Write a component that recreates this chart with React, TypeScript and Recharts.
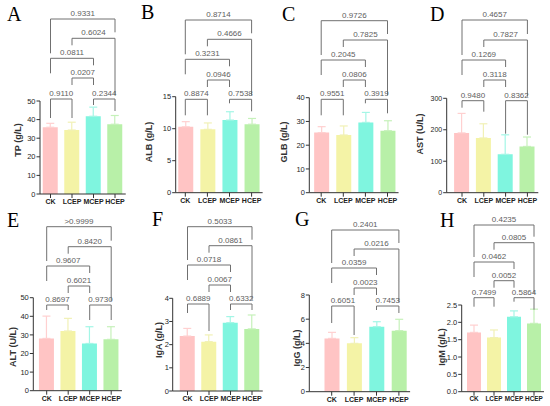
import React from 'react'
import { BarChart, Bar, XAxis, YAxis, ErrorBar, ReferenceLine } from 'recharts'

const GROUPS = ['CK', 'LCEP', 'MCEP', 'HCEP']
const BAR_COLORS = ['#ffc4c4', '#f4f3a6', '#7ff5df', '#b8f0a8']
const ERR_COLORS = ['#ffd0d0', '#f1f1b6', '#a4f6e6', '#c6f1ba']

const PANEL_LETTERS = ['A', 'B', 'C', 'D', 'E', 'F', 'G', 'H']
const Y_LABELS = ['TP (g/L)', 'ALB (g/L)', 'GLB (g/L)', 'AST (U/L)', 'ALT (U/L)', 'IgA (g/L)', 'IgG (g/L)', 'IgM (g/L)']

const Y_TICKS = [
  [0, 10, 20, 30, 40, 50],
  [0, 5, 10, 15],
  [0, 10, 20, 30, 40],
  [0, 100, 200, 300],
  [0, 10, 20, 30, 40, 50],
  [0, 1, 2, 3, 4],
  [0, 2, 4, 6, 8],
  [0, 0.5, 1, 1.5, 2, 2.5],
]
const TICK_DECIMALS = [0, 0, 0, 0, 0, 0, 0, 1]

// mean per group (CK, LCEP, MCEP, HCEP)
const MEANS = [
  [35.9, 34.4, 41.8, 37.5],
  [10.3, 9.9, 11.35, 10.7],
  [25.3, 24.3, 29.6, 26.1],
  [190, 174, 122, 147],
  [28.1, 32.1, 25.4, 27.6],
  [2.37, 2.13, 2.95, 2.68],
  [4.41, 4.0, 5.38, 5.05],
  [1.71, 1.56, 2.16, 1.97],
]
// SD (upper whisker only)
const SDS = [
  [2.1, 4.2, 4.9, 4.7],
  [0.8, 1.0, 1.3, 0.9],
  [2.5, 3.8, 4.2, 4.2],
  [62, 45, 62, 30],
  [12.0, 6.8, 9.0, 6.8],
  [0.33, 0.29, 0.26, 0.6],
  [0.5, 0.47, 0.41, 0.94],
  [0.21, 0.22, 0.17, 0.41],
]

const COMPARISONS = [
  ['CK', 'LCEP'],
  ['MCEP', 'HCEP'],
  ['LCEP', 'MCEP'],
  ['CK', 'MCEP'],
  ['LCEP', 'HCEP'],
  ['CK', 'HCEP'],
]
const P_VALUES = [
  ['0.9110', '0.2344', '0.0207', '0.0811', '0.6024', '0.9331'],
  ['0.8874', '0.7538', '0.0946', '0.3231', '0.4666', '0.8714'],
  ['0.9551', '0.3919', '0.0806', '0.2045', '0.7825', '0.9726'],
  ['0.9480', '0.8362', '0.3118', '0.1269', '0.7827', '0.4657'],
  ['0.8697', '0.9730', '0.6021', '0.9607', '0.8420', '>0.9999'],
  ['0.6889', '0.6332', '0.0067', '0.0718', '0.0861', '0.5033'],
  ['0.6051', '0.7453', '0.0023', '0.0359', '0.0216', '0.2401'],
  ['0.7499', '0.5864', '0.0052', '0.0462', '0.0805', '0.4235'],
]

// page layout in pixels (panel box, axis position, bracket rows, bottom bracket legs, y label centre)
const LAYOUT = [
  { x0: 0, y0: 0, w: 138, h: 212, axisX: 40, top: 101, bottom: 194, first: 50.5, step: 21.5, bar: 15, levels: [99, 78, 58.3, 38.3, 19], legs0: [19, 19, 6, 12], label: [17.5, 140], tickFont: 7.5, tickGap: 1, xFont: 7, letter: [7, 7] },
  { x0: 135, y0: 0, w: 138, h: 212, axisX: 175.7, top: 96.7, bottom: 192.7, first: 185.3, step: 22.1, bar: 15, levels: [99.3, 80, 59.3, 39.3, 20], legs0: [16, 16, 4, 12], label: [149, 142], tickFont: 7.5, tickGap: 1, xFont: 7, letter: [141, 5] },
  { x0: 270, y0: 0, w: 140, h: 212, axisX: 309.3, top: 97.7, bottom: 192.7, first: 321.2, step: 22.1, bar: 15, levels: [99.3, 80, 60, 40, 20.7], legs0: [16, 16, 4, 14], label: [284, 142], tickFont: 7.5, tickGap: 1, xFont: 7, letter: [282, 7] },
  { x0: 405, y0: 0, w: 145, h: 212, axisX: 446.7, top: 98.3, bottom: 192.7, first: 462, step: 21.8, bar: 15, levels: [100.7, 80, 60, 40, 20], legs0: [7, 11, 33, 34], label: [420, 134], tickFont: 7, tickGap: 1, xFont: 7, letter: [430, 7] },
  { x0: 0, y0: 212, w: 138, h: 194, axisX: 33.3, top: 297.7, bottom: 390.7, first: 46.7, step: 21.5, bar: 15, levels: [305, 286, 266, 246.7, 226.7], legs0: [5, 5, 15, 15], label: [12.5, 347], tickFont: 7.5, tickGap: 1, xFont: 7, letter: [7, 213] },
  { x0: 135, y0: 212, w: 138, h: 194, axisX: 172.7, top: 298.3, bottom: 391, first: 187.5, step: 21.5, bar: 15, levels: [304, 285, 265, 245.7, 226.7], legs0: [9, 27, 6, 6], label: [158.5, 340], tickFont: 7.5, tickGap: 0.3, xFont: 7, letter: [152, 212] },
  { x0: 270, y0: 212, w: 142, h: 194, axisX: 309.3, top: 295, bottom: 391.7, first: 331.7, step: 22.4, bar: 15, levels: [306, 288, 268, 249, 230], legs0: [17, 29, 4, 7], label: [297, 348], tickFont: 7.5, tickGap: 1, xFont: 7, letter: [295, 212] },
  { x0: 405, y0: 212, w: 145, h: 194, axisX: 461.7, top: 305, bottom: 391.7, first: 474, step: 20, bar: 14, levels: [297.7, 280.7, 262, 242.7, 225], legs0: [9, 9, 4, 12], label: [441.5, 347], tickFont: 7.5, tickGap: 1, xFont: 6.4, letter: [440, 213] },
]

const AXIS = '#333333'
const BRACKET = '#707070'
const PTEXT = '#5e5e5e'

function row(d: any) {
  return d && d.payload ? d.payload : d
}

function Panel({ i }: { i: number }) {
  const L = LAYOUT[i]
  const ticks = Y_TICKS[i]
  const max = ticks[ticks.length - 1]
  const data = GROUPS.map((g, k) => ({ group: g, mean: MEANS[i][k], sd: SDS[i][k] }))

  const plotH = L.bottom - L.top
  const toVal = (py: number) => (max * (L.bottom - py)) / plotH
  const bandStart = L.first - L.step / 2
  const plotRight = bandStart + 4 * L.step

  // leg bottoms in pixel rows for each comparison
  const lv = L.levels
  const legs: [number, number][] = [
    [lv[0] + L.legs0[0], lv[0] + L.legs0[1]],
    [lv[0] + L.legs0[2], lv[0] + L.legs0[3]],
    [lv[1] + 7, lv[1] + 7],
    [lv[2] + 15, lv[2] + 7],
    [lv[3] + 7, lv[0] - 4],
    [lv[2] - 5, lv[3] - 6],
  ]
  const levelOf = [0, 0, 1, 2, 3, 4]

  return (
    <div style={{ position: 'absolute', left: L.x0, top: L.y0 }}>
      <BarChart
        width={L.w}
        height={L.h}
        data={data}
        margin={{ top: L.top - L.y0, right: L.x0 + L.w - plotRight, bottom: 0, left: 0 }}
      >
        <XAxis
          dataKey="group"
          interval={0}
          height={L.y0 + L.h - L.bottom}
          padding={{ left: bandStart - L.axisX, right: 0 }}
          tick={{ fontSize: L.xFont, fontWeight: 'bold', fill: '#222' }}
          tickSize={4}
          tickMargin={1}
          stroke={AXIS}
        />
        <YAxis
          type="number"
          domain={[0, max]}
          ticks={ticks}
          interval={0}
          allowDataOverflow
          width={L.axisX - L.x0}
          tick={{ fontSize: L.tickFont, fill: '#262626' }}
          tickSize={3.5}
          tickMargin={L.tickGap}
          stroke={AXIS}
          tickFormatter={(v: number) => (TICK_DECIMALS[i] ? v.toFixed(1) : String(v))}
        />
        {GROUPS.map((g, k) => (
          <Bar
            key={g}
            dataKey={(d: any) => (row(d).group === g ? row(d).mean : null)}
            stackId="s"
            fill={BAR_COLORS[k]}
            barSize={L.bar}
            isAnimationActive={false}
          >
            <ErrorBar
              dataKey={(d: any) => (row(d).group === g ? [0, row(d).sd] : null)}
              direction="y"
              width={4}
              stroke={ERR_COLORS[k]}
              strokeWidth={1.2}
              isAnimationActive={false}
            />
          </Bar>
        ))}
        {COMPARISONS.map(([a, b], j) => {
          const yTop = toVal(lv[levelOf[j]])
          const [la, lb] = legs[j]
          return (
            <React.Fragment key={j}>
              <ReferenceLine
                segment={[{ x: a, y: yTop }, { x: b, y: yTop }]}
                stroke={BRACKET}
                strokeWidth={1}
                ifOverflow="visible"
                label={{ value: P_VALUES[i][j], position: 'top', offset: 3, fill: PTEXT, fontSize: 8 }}
              />
              <ReferenceLine segment={[{ x: a, y: yTop }, { x: a, y: toVal(la) }]} stroke={BRACKET} strokeWidth={1} ifOverflow="visible" />
              <ReferenceLine segment={[{ x: b, y: yTop }, { x: b, y: toVal(lb) }]} stroke={BRACKET} strokeWidth={1} ifOverflow="visible" />
            </React.Fragment>
          )
        })}
      </BarChart>
    </div>
  )
}

export default function App() {
  return (
    <div
      style={{
        position: 'absolute',
        left: 0,
        top: 0,
        width: 550,
        height: 406,
        background: '#fff',
        fontFamily: '"Liberation Sans", Arial, sans-serif',
        overflow: 'hidden',
      }}
    >
      <style>{'.recharts-surface{overflow:visible}'}</style>
      {LAYOUT.map((_, i) => (
        <Panel key={i} i={i} />
      ))}
      {LAYOUT.map((L, i) => (
        <div
          key={'y' + i}
          style={{
            position: 'absolute',
            left: L.label[0],
            top: L.label[1],
            transform: 'translate(-50%, -50%) rotate(-90deg)',
            whiteSpace: 'nowrap',
            fontSize: 9,
            fontWeight: 'bold',
            lineHeight: '10px',
            color: '#333',
          }}
        >
          {Y_LABELS[i]}
        </div>
      ))}
      {LAYOUT.map((L, i) => (
        <div
          key={'l' + i}
          style={{
            position: 'absolute',
            left: L.letter[0],
            top: L.letter[1] - 3.5,
            fontFamily: '"Liberation Serif", "Times New Roman", serif',
            fontSize: 20,
            lineHeight: '20px',
            color: '#000',
          }}
        >
          {PANEL_LETTERS[i]}
        </div>
      ))}
    </div>
  )
}
